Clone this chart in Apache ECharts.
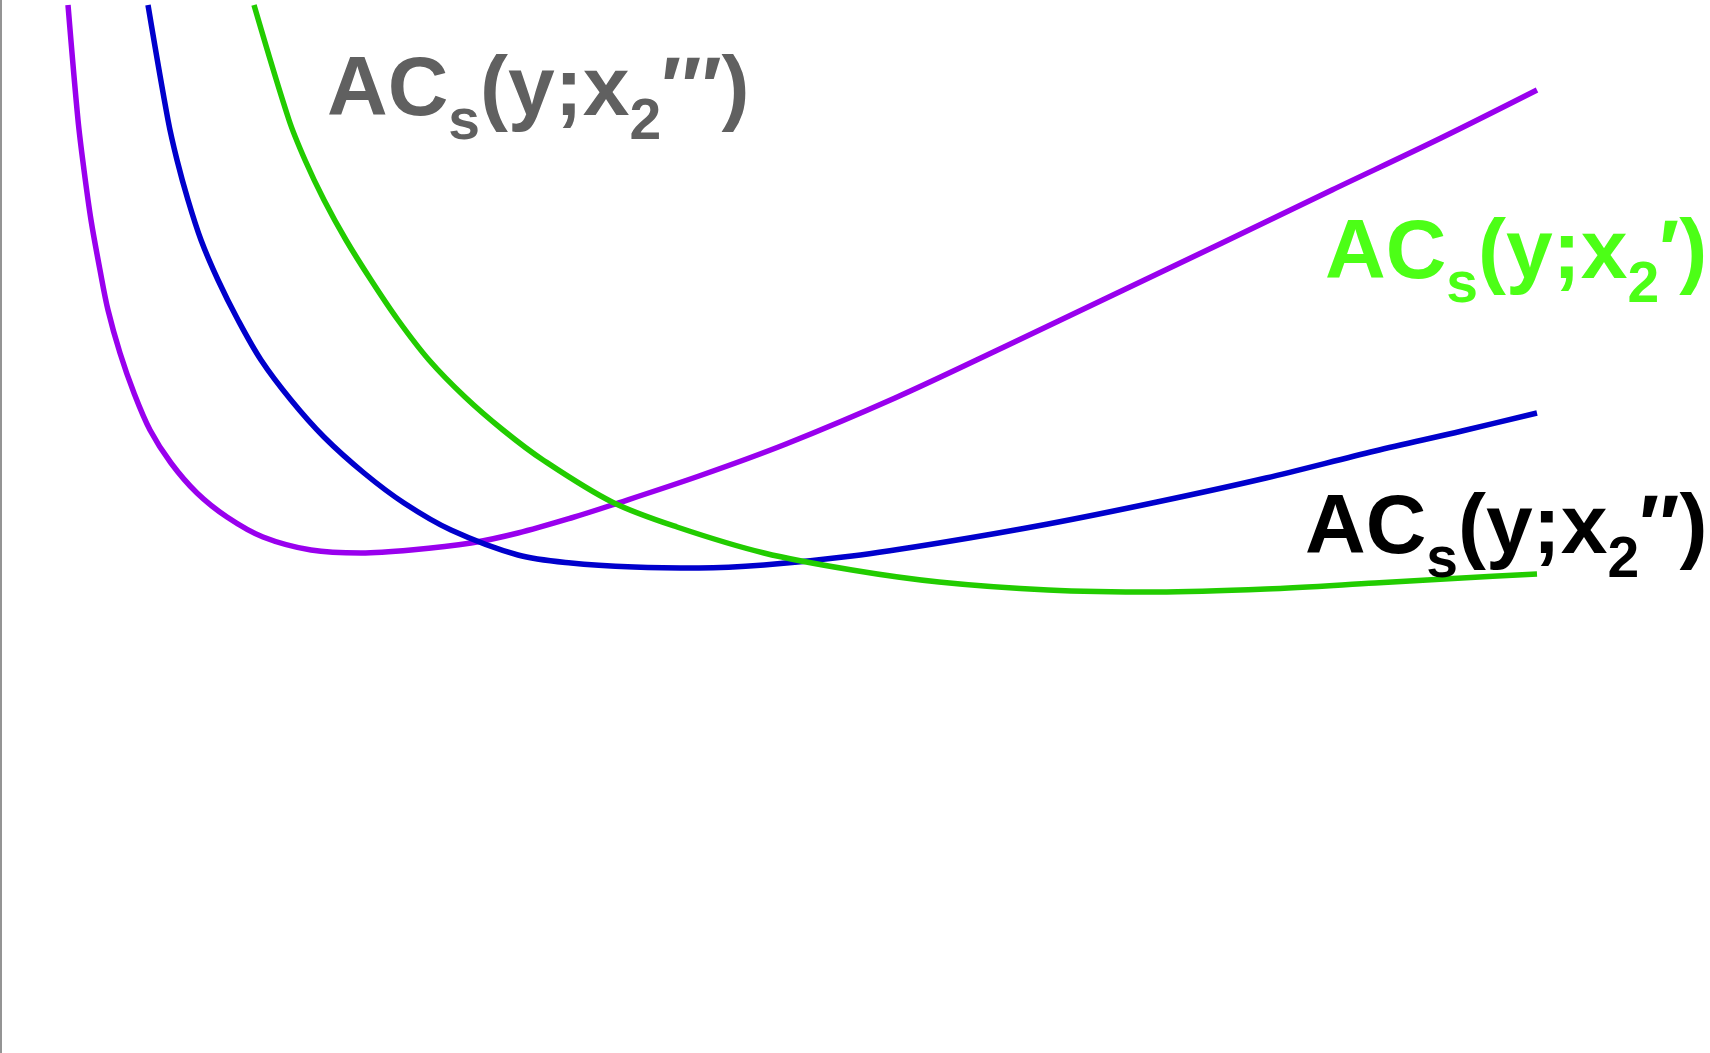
<!DOCTYPE html>
<html>
<head>
<meta charset="utf-8">
<title>Short-run average cost curves</title>
<script src="https://cdn.jsdelivr.net/npm/echarts@6/dist/echarts.min.js"></script>
<style>
  html, body { margin: 0; padding: 0; background: #ffffff; }
  #chart { width: 1710px; height: 1053px; }
</style>
</head>
<body>
<div id="chart"></div>
<script>
// Output level y (horizontal) against average cost (vertical), one curve per plant size x2.
const costSmall = [   // ACs(y; x2''')
  [0.67, 10.48], [0.77, 9.33], [0.83, 8.83], [0.90, 8.33], [0.99, 7.83], [1.07, 7.43],
  [1.19, 7.00], [1.33, 6.60], [1.49, 6.23], [1.70, 5.90], [1.96, 5.60], [2.26, 5.36],
  [2.62, 5.16], [3.10, 5.03], [3.60, 5.00], [4.10, 5.03], [4.70, 5.10], [5.17, 5.20],
  [5.70, 5.35], [6.11, 5.48], [6.98, 5.77], [7.85, 6.09], [8.94, 6.55], [10.03, 7.06],
  [11.12, 7.58], [12.21, 8.10], [13.31, 8.63], [14.40, 9.15], [15.36, 9.63]
];
const costMedium = [  // ACs(y; x2'')
  [1.47, 10.48], [1.67, 9.33], [1.76, 8.93], [1.87, 8.53], [2.00, 8.13], [2.17, 7.73],
  [2.37, 7.33], [2.60, 6.93], [2.90, 6.53], [3.23, 6.16], [3.63, 5.80], [4.03, 5.50],
  [4.50, 5.23], [5.17, 4.98], [5.70, 4.90], [6.33, 4.86], [6.98, 4.85], [7.63, 4.88],
  [8.51, 4.97], [9.38, 5.10], [10.47, 5.29], [11.56, 5.51], [12.65, 5.75], [13.74, 6.02],
  [14.61, 6.22], [15.36, 6.40]
];
const costLarge = [   // ACs(y; x2')
  [2.53, 10.48], [2.88, 9.33], [3.04, 8.93], [3.23, 8.53], [3.45, 8.13], [3.70, 7.73],
  [3.97, 7.33], [4.28, 6.93], [4.64, 6.56], [5.02, 6.23], [5.42, 5.93], [6.11, 5.51],
  [6.76, 5.26], [7.63, 5.00], [8.51, 4.83], [9.38, 4.71], [10.47, 4.63], [11.56, 4.61],
  [12.65, 4.64], [13.74, 4.70], [14.61, 4.75], [15.36, 4.79]
];

const seriesNames = ["ACs(y;x2''')", "ACs(y;x2'')", "ACs(y;x2')"];
const lineColors = ['#9900ee', '#0000cc', '#22cc00'];

const FONT = "'Liberation Sans', Arial, Helvetica, sans-serif";

// Curve label as rich text: "AC" with subscript s, "(y;x" with subscript 2, then primes.
function curveLabel(primes, color) {
  return {
    text: '{m|AC}{s|s}{m|(y;x}{s|2}{m|' + primes + ')}',
    rich: {
      m: { fontFamily: FONT, fontWeight: 'bold', fontSize: 84, lineHeight: 100, fill: color, color: color },
      s: { fontFamily: FONT, fontWeight: 'bold', fontSize: 57, lineHeight: 100, padding: [63, 0, 0, 0], fill: color, color: color }
    },
    verticalAlign: 'top',
    align: 'left'
  };
}

const chart = echarts.init(document.getElementById('chart'), null, { renderer: 'canvas' });

function lineSeries(name, data, color) {
  return {
    name: name,
    type: 'line',
    data: data,
    smooth: 0.33,
    showSymbol: false,
    symbol: 'none',
    silent: true,
    clip: true,
    lineStyle: { color: color, width: 5.5, cap: 'butt', join: 'round' }
  };
}

chart.setOption({
  animation: false,
  backgroundColor: '#ffffff',
  grid: { left: 1, right: 0, top: 0, bottom: 0, containLabel: false },
  xAxis: {
    type: 'value', min: 0, max: 17.09,
    show: false
  },
  yAxis: {
    type: 'value', min: 0, max: 10.53,
    axisLine: { show: true, lineStyle: { color: '#707070', width: 1.5 } },
    axisTick: { show: false },
    axisLabel: { show: false },
    splitLine: { show: false }
  },
  series: [
    lineSeries(seriesNames[0], costSmall, lineColors[0]),
    lineSeries(seriesNames[1], costMedium, lineColors[1]),
    lineSeries(seriesNames[2], costLarge, lineColors[2])
  ],
  graphic: [
    { type: 'text', x: 327, y: 42, style: curveLabel('\u2032\u2032\u2032', '#606060'), z: 10 },
    { type: 'text', x: 1325, y: 205, style: curveLabel('\u2032', '#4cff16'), z: 10 },
    { type: 'text', x: 1305, y: 480, style: curveLabel('\u2032\u2032', '#000000'), z: 10 }
  ]
});
</script>
</body>
</html>
